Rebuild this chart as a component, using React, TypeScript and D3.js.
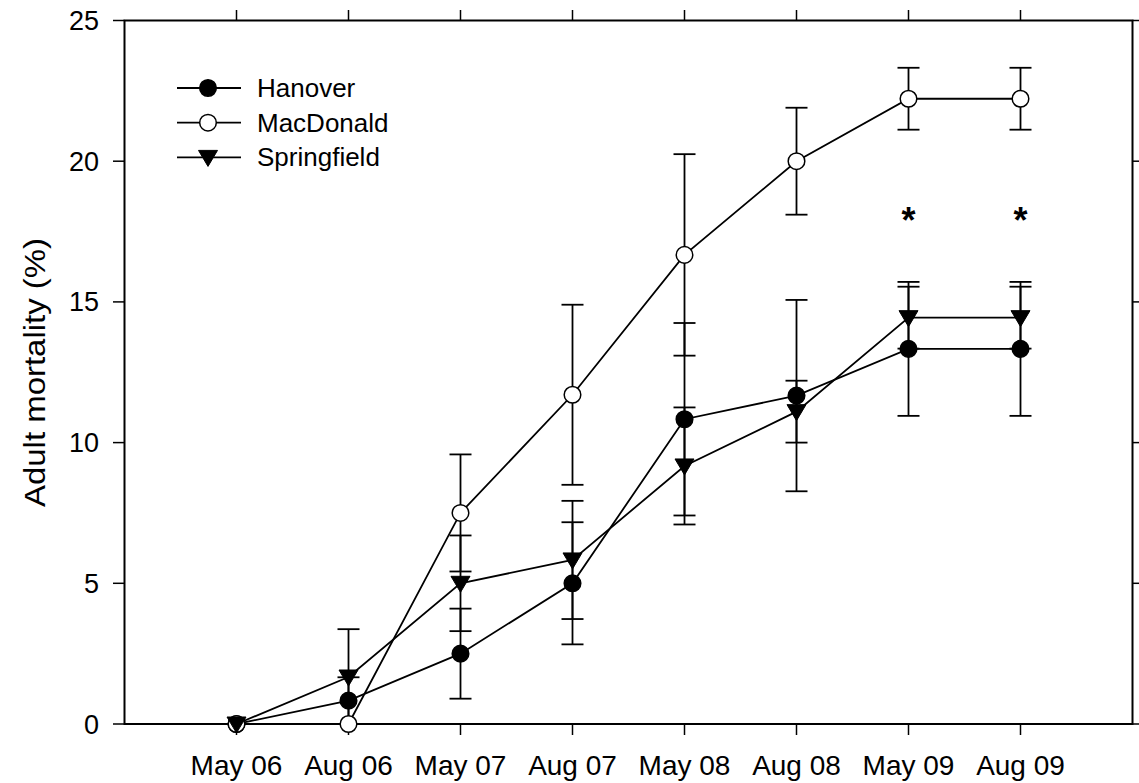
import React from "react";
import * as d3 from "d3";

// Sampling dates (categories along the x axis)
const dates = ["May 06", "Aug 06", "May 07", "Aug 07", "May 08", "Aug 08", "May 09", "Aug 09"];

// Cumulative adult mortality (%) and standard errors per site
const hanover = [0, 0.83, 2.5, 5.0, 10.83, 11.67, 13.33, 13.33];
const hanoverErr = [0, 0.83, 1.6, 2.17, 3.42, 3.4, 2.38, 2.38];

const macdonald = [0, 0, 7.5, 11.7, 16.67, 20.0, 22.22, 22.22];
const macdonaldErr = [0, 0, 2.08, 3.2, 3.58, 1.9, 1.1, 1.1];

const springfield = [0, 1.67, 5.0, 5.83, 9.17, 11.1, 14.44, 14.44];
const springfieldErr = [0, 1.7, 1.7, 2.1, 2.08, 1.1, 1.1, 1.1];

// Dates flagged as significantly different
const significant = ["May 09", "Aug 09"];
const significantLevel = 18.2;

const yTicks = [0, 5, 10, 15, 20, 25];

type Marker = "filled" | "open" | "triangle";
const series: { name: string; values: number[]; errs: number[]; marker: Marker }[] = [
  { name: "Hanover", values: hanover, errs: hanoverErr, marker: "filled" },
  { name: "MacDonald", values: macdonald, errs: macdonaldErr, marker: "open" },
  { name: "Springfield", values: springfield, errs: springfieldErr, marker: "triangle" },
];

const FONT = "Arial, 'Liberation Sans', Helvetica, sans-serif";
const W = 1139;
const H = 783;
const left = 124.5;
const right = 1132.5;
const top = 20.5;
const bottom = 724;

function MarkerShape({ kind, x, y }: { kind: Marker; x: number; y: number }) {
  if (kind === "triangle") {
    return <path d="M-9.5,-7L9.5,-7L0,9Z" transform={`translate(${x},${y})`} fill="#000" stroke="#000" strokeWidth={1} />;
  }
  return (
    <circle
      cx={x}
      cy={y}
      r={8.3}
      fill={kind === "filled" ? "#000" : "#fff"}
      stroke="#000"
      strokeWidth={1.5}
    />
  );
}

export default function App() {
  const x = d3.scaleLinear().domain([-1, dates.length]).range([left, right]);
  const y = d3.scaleLinear().domain([0, 25]).range([bottom, top]);
  const line = d3
    .line<number>()
    .x((_, i) => x(i))
    .y((v) => y(v));
  const cap = 11;

  return (
    <svg
      width={W}
      height={H}
      style={{ position: "absolute", left: 0, top: 0, background: "#fff" }}
      fontFamily={FONT}
    >
      <rect width={W} height={H} fill="#fff" />

      {/* frame */}
      <rect x={left} y={top} width={right - left} height={bottom - top} fill="none" stroke="#000" strokeWidth={2} />

      {/* y ticks, left and right, outward */}
      {yTicks.map((t) => (
        <g key={`yt${t}`}>
          <line x1={left - 11.5} x2={left} y1={y(t)} y2={y(t)} stroke="#000" strokeWidth={1.5} />
          <line x1={right} x2={right + 11.5} y1={y(t)} y2={y(t)} stroke="#000" strokeWidth={1.5} />
          <text x={99} y={y(t) + 9.5} fontSize={27} textAnchor="end" fill="#000">
            {t}
          </text>
        </g>
      ))}

      {/* x ticks, top and bottom, outward */}
      {dates.map((d, i) => (
        <g key={`xt${d}`}>
          <line x1={x(i)} x2={x(i)} y1={top - 10.5} y2={top} stroke="#000" strokeWidth={1.5} />
          <line x1={x(i)} x2={x(i)} y1={bottom} y2={bottom + 11} stroke="#000" strokeWidth={1.5} />
          <text x={x(i)} y={775} fontSize={28} textAnchor="middle" fill="#000">
            {d}
          </text>
        </g>
      ))}

      {/* y axis title */}
      <text
        transform={`translate(45,372.5) rotate(-90)`}
        fontSize={30}
        textAnchor="middle"
        fill="#000"
        textLength={269}
        lengthAdjust="spacingAndGlyphs"
      >
        Adult mortality (%)
      </text>

      {/* error bars */}
      {series.map((s) =>
        s.values.map((v, i) =>
          s.errs[i] > 0 ? (
            <g key={`e${s.name}${i}`} stroke="#000" strokeWidth={1.8}>
              <line x1={x(i)} x2={x(i)} y1={y(v + s.errs[i])} y2={y(Math.max(0, v - s.errs[i]))} />
              <line x1={x(i) - cap} x2={x(i) + cap} y1={y(v + s.errs[i])} y2={y(v + s.errs[i])} />
              {v - s.errs[i] > 0 && (
                <line x1={x(i) - cap} x2={x(i) + cap} y1={y(v - s.errs[i])} y2={y(v - s.errs[i])} />
              )}
            </g>
          ) : null
        )
      )}

      {/* series lines */}
      {series.map((s) => (
        <path key={`l${s.name}`} d={line(s.values) || ""} fill="none" stroke="#000" strokeWidth={1.8} />
      ))}

      {/* markers */}
      {series.map((s) =>
        s.values.map((v, i) => <MarkerShape key={`m${s.name}${i}`} kind={s.marker} x={x(i)} y={y(v)} />)
      )}

      {/* significance marks */}
      {significant.map((d) => (
        <text
          key={`s${d}`}
          x={x(dates.indexOf(d))}
          y={y(significantLevel) + 21}
          fontSize={36}
          fontWeight="bold"
          textAnchor="middle"
          fill="#000"
        >
          *
        </text>
      ))}

      {/* legend */}
      {series.map((s, i) => {
        const ly = 88 + i * 34.7;
        return (
          <g key={`lg${s.name}`}>
            <line x1={177} x2={241} y1={ly} y2={ly} stroke="#000" strokeWidth={1.8} />
            <MarkerShape kind={s.marker} x={208} y={ly} />
            <text x={257} y={ly + 9} fontSize={26} fill="#000">
              {s.name}
            </text>
          </g>
        );
      })}
    </svg>
  );
}
